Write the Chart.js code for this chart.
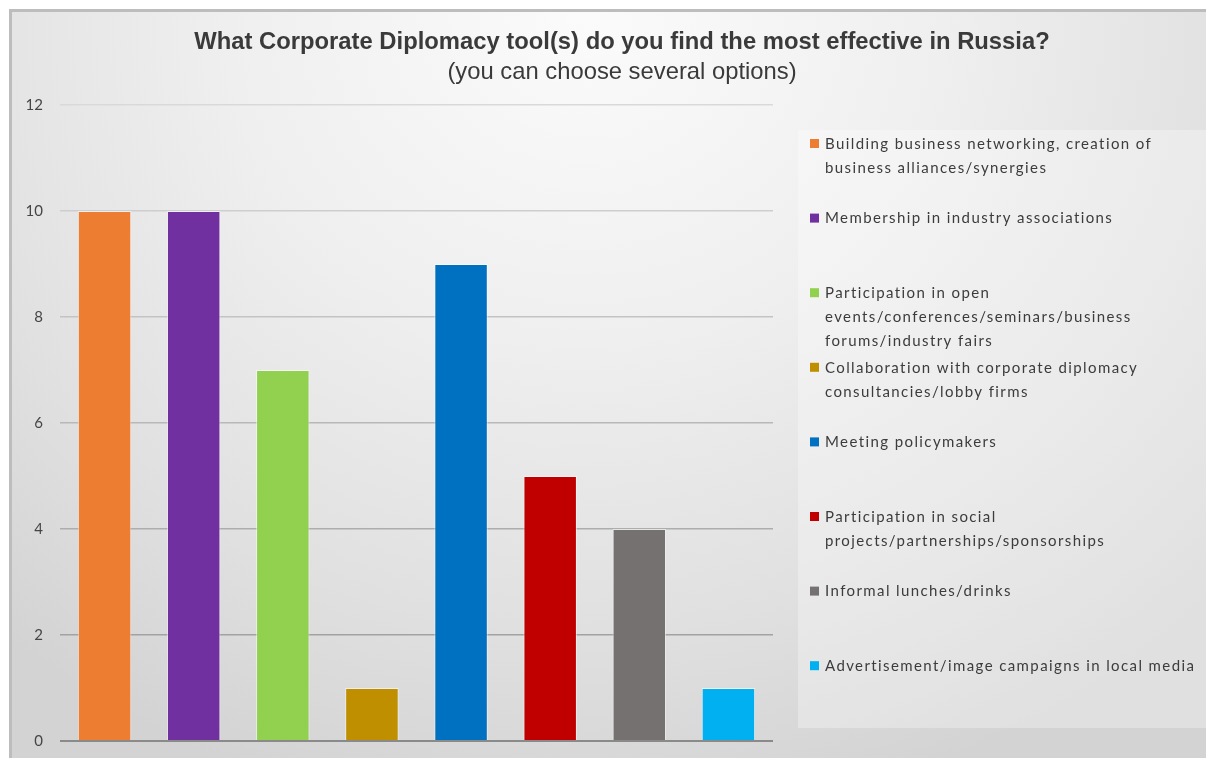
<!DOCTYPE html>
<html lang="en">
<head>
    <meta charset="UTF-8">
    <title>Corporate Diplomacy tools</title>
    <script src="https://cdn.jsdelivr.net/npm/chart.js"></script>
    <style>
        body {
            margin: 0;
            padding: 0;
            background: #ffffff;
            width: 1206px;
            height: 758px;
            overflow: hidden;
            position: relative;
        }
        .panel {
            position: absolute;
            left: 9px;
            top: 9px;
            right: 0;
            bottom: 0;
            border-left: 3px solid #bdbdbd;
            border-top: 3px solid #bdbdbd;
            background: radial-gradient(ellipse 75% 110% at 48% 0%, #fbfbfb 0%, #efefef 40%, #e0e0e0 75%, #d3d3d3 100%);
        }
        .legend-bg {
            position: absolute;
            left: 798px;
            top: 130px;
            width: 408px;
            height: 598px;
            background: rgba(255, 255, 255, 0.3);
        }
        canvas {
            position: absolute;
            left: 0;
            top: 0;
        }
    </style>
</head>
<body>
    <div class="panel"></div>
    <div class="legend-bg"></div>
    <!-- canvas runs past the right edge so the title is centred on the slide, not the window -->
    <canvas id="toolChart" width="1244" height="758"></canvas>

    <script>
        const categories = [
            ["Building business networking, creation of", "business alliances/synergies"],
            ["Membership in industry associations"],
            ["Participation in open", "events/conferences/seminars/business", "forums/industry fairs"],
            ["Collaboration with corporate diplomacy", "consultancies/lobby firms"],
            ["Meeting policymakers"],
            ["Participation in social", "projects/partnerships/sponsorships"],
            ["Informal lunches/drinks"],
            ["Advertisement/image campaigns in local media"]
        ];
        const responses = [10, 10, 7, 1, 9, 5, 4, 1];
        const barColors = ["#ED7D31", "#7030A0", "#92D050", "#BF8F00", "#0070C0", "#C00000", "#767171", "#00B0F0"];
        const yTicks = [0, 2, 4, 6, 8, 10, 12];

        // legend drawn on the right, one entry per bar, lines kept as in the original
        const sideLegend = {
            id: 'sideLegend',
            afterDraw(chart) {
                const ctx = chart.ctx;
                const ds = chart.data.datasets[0];
                ctx.save();
                ctx.font = '15px Lato';
                ctx.letterSpacing = '1.4px';
                ctx.textBaseline = 'middle';
                ctx.textAlign = 'left';
                chart.data.labels.forEach((lines, i) => {
                    const y0 = 144 + i * 74.6;
                    ctx.fillStyle = ds.backgroundColor[i];
                    ctx.fillRect(810, y0 - 5, 9, 9);
                    ctx.fillStyle = '#3c3c3c';
                    lines.forEach((line, j) => {
                        ctx.fillText(line, 825, y0 + j * 24);
                    });
                });
                ctx.restore();
            }
        };

        function gridColor(c) {
            const v = c.tick.value;
            if (v === 0) return '#8a8a8a';
            const g = Math.round(162 + (v - 2) * 5.5);
            return `rgb(${g},${g},${g})`;
        }

        const ctx = document.getElementById('toolChart').getContext('2d');
        const toolChart = new Chart(ctx, {
            type: 'bar',
            data: {
                labels: categories,
                datasets: [{
                    data: responses,
                    backgroundColor: barColors,
                    borderColor: 'rgba(255,255,255,0.55)',
                    borderWidth: 1,
                    categoryPercentage: 1,
                    barPercentage: 0.6
                }]
            },
            options: {
                responsive: false,
                animation: false,
                layout: { padding: { left: 0, right: 0, top: 0, bottom: 17 } },
                plugins: {
                    legend: { display: false },
                    tooltip: { enabled: false },
                    title: {
                        display: true,
                        text: 'What Corporate Diplomacy tool(s) do you find the most effective in Russia?',
                        color: '#3a3a3a',
                        font: { family: "'Liberation Sans', Arial", size: 23.8, weight: 'bold', lineHeight: 1.2 },
                        padding: { top: 27.7, bottom: 1.4 }
                    },
                    subtitle: {
                        display: true,
                        text: '(you can choose several options)',
                        color: '#3a3a3a',
                        font: { family: "'Liberation Sans', Arial", size: 23.8, lineHeight: 1.2 },
                        padding: { top: 0, bottom: 18.7 }
                    }
                },
                scales: {
                    x: {
                        display: false,
                        grid: { display: false }
                    },
                    y: {
                        min: 0,
                        max: 12,
                        afterBuildTicks: (scale) => { scale.ticks = yTicks.map(v => ({ value: v })); },
                        afterFit: (scale) => { scale.width = 60; },
                        border: { display: false },
                        grid: {
                            color: gridColor,
                            lineWidth: (c) => c.tick.value === 0 ? 2 : 1.5,
                            drawTicks: true,
                            tickLength: 17,
                            tickColor: 'transparent'
                        },
                        ticks: {
                            padding: 0,
                            color: '#454545',
                            font: { family: 'Lato', size: 15 }
                        }
                    },
                    side: {
                        type: 'linear',
                        position: 'right',
                        display: true,
                        afterFit: (scale) => { scale.width = 1244 - 773; },
                        border: { display: false },
                        grid: { display: false },
                        ticks: { display: false }
                    }
                }
            },
            plugins: [sideLegend]
        });
    </script>
</body>
</html>
